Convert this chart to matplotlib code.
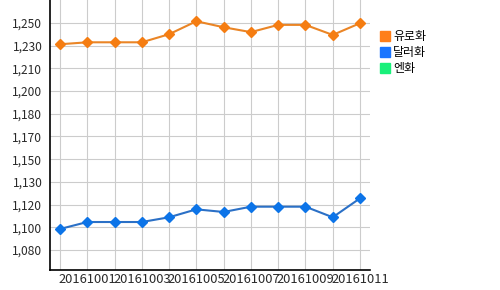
import matplotlib
matplotlib.use('Agg')
import matplotlib.pyplot as plt
import numpy as np
from matplotlib.lines import Line2D

plt.rcParams['font.family'] = ['Noto Sans CJK KR', 'DejaVu Sans']

# data
dates = ['20160930', '20161001', '20161002', '20161003', '20161004', '20161005',
         '20161006', '20161007', '20161008', '20161009', '20161010', '20161011']
euro = [1231.7, 1233.1, 1233.1, 1233.1, 1238.9, 1248.2,
        1243.9, 1240.4, 1245.6, 1245.6, 1238.4, 1246.8]
dollar = [1099.1, 1104.1, 1104.1, 1104.1, 1107.5, 1113.2,
          1111.3, 1115.1, 1115.1, 1115.1, 1107.5, 1121.1]
yen = []
series_names = ['유로화', '달러화', '엔화']
ytick_labels = ['1,080', '1,100', '1,120', '1,130', '1,150', '1,170',
                '1,180', '1,200', '1,210', '1,230', '1,250']
y_start = 1084.0
y_step = 16.3

fig = plt.figure(figsize=(5, 2.9), dpi=100)
ax = fig.add_axes([50 / 500, 20 / 290, 320 / 500, 270 / 290])

x = np.arange(len(dates))
ax.plot(x, euro, color='#EA8526', lw=1.5, marker='D', ms=5.6,
        mfc='#F57D12', mec='#F57D12', zorder=3)
ax.plot(x, dollar, color='#2B70C6', lw=1.5, marker='D', ms=5.6,
        mfc='#0C74E8', mec='#0C74E8', zorder=3)
ax.plot(x[:len(yen)], yen, color='#19F07A', lw=1.5, marker='D', ms=5.6)

yt = y_start + y_step * np.arange(len(ytick_labels))
ax.set_yticks(yt)
ax.set_yticklabels(ytick_labels)
ax.set_ylim(y_start - 0.88 * y_step, y_start + 11.01 * y_step)

ax.set_xticks(x)
ax.set_xticklabels([d if i % 2 == 1 else '' for i, d in enumerate(dates)])
ax.set_xlim(-0.367, len(dates) - 1 + 0.367)

ax.grid(True, color='#CCCCCC', lw=0.8)
ax.set_axisbelow(True)
ax.tick_params(axis='both', length=0, labelsize=8.6, colors='#2A2A2A')
ax.tick_params(axis='y', pad=5.5)
ax.tick_params(axis='x', pad=2, labelsize=9.3)
for s in ['top', 'right']:
    ax.spines[s].set_visible(False)
for s in ['left', 'bottom']:
    ax.spines[s].set_linewidth(1.2)
    ax.spines[s].set_color('black')

leg_colors = ['#FF7F1A', '#1A75FF', '#19F07A']
handles = [Line2D([], [], ls='none', marker='s', ms=7.5, mfc=c, mec=c) for c in leg_colors]
fig.legend(handles, series_names, loc='upper left', bbox_to_anchor=(380 / 500, 1 - 30 / 290),
           frameon=False, fontsize=8.6, handlelength=0.8, handletextpad=0.3,
           labelspacing=0.25, borderpad=0, borderaxespad=0)

fig.savefig('out.png', dpi=100)
